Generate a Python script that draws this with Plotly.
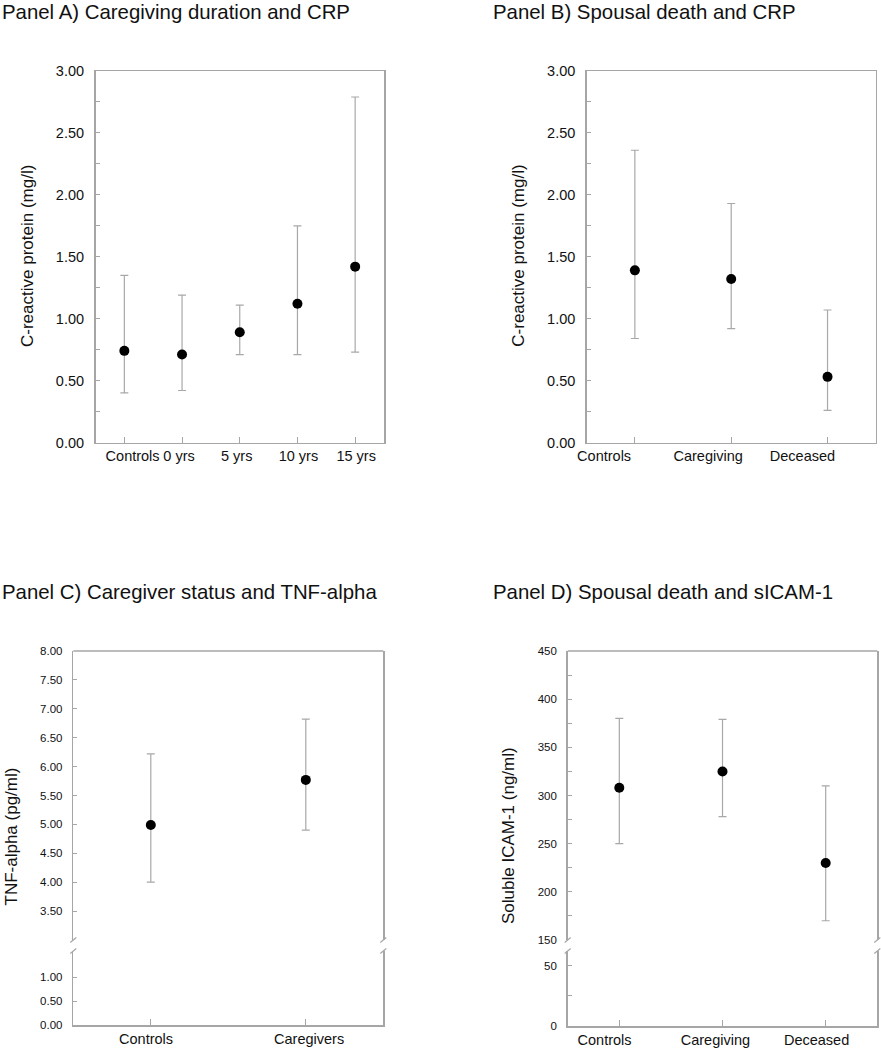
import plotly.graph_objects as go

# ---------------- data ----------------
a_categories = ["Controls", "0 yrs", "5 yrs", "10 yrs", "15 yrs"]
a_mean = [0.74, 0.71, 0.89, 1.12, 1.42]
a_upper = [1.35, 1.19, 1.11, 1.75, 2.79]
a_lower = [0.40, 0.42, 0.71, 0.71, 0.73]

b_categories = ["Controls", "Caregiving", "Deceased"]
b_mean = [1.39, 1.32, 0.53]
b_upper = [2.36, 1.93, 1.07]
b_lower = [0.84, 0.92, 0.26]

c_categories = ["Controls", "Caregivers"]
c_mean = [4.99, 5.77]
c_upper = [6.22, 6.82]
c_lower = [4.00, 4.90]

d_categories = ["Controls", "Caregiving", "Deceased"]
d_mean = [308, 325, 230]
d_upper = [380, 379, 310]
d_lower = [250, 278, 170]

titles = ["Panel A) Caregiving duration and CRP",
          "Panel B) Spousal death and CRP",
          "Panel C) Caregiver status and TNF-alpha",
          "Panel D) Spousal death and sICAM-1"]
ytitles = ["C-reactive protein (mg/l)", "C-reactive protein (mg/l)",
           "TNF-alpha (pg/ml)", "Soluble ICAM-1 (ng/ml)"]

# ---------------- layout helpers ----------------
W, H = 881, 1050
FONT = "Liberation Sans, Arial, sans-serif"
LINE = "#a6a6a6"
ERR = "#a8a8a8"


def fx(x):
    return x / W


def fy(y):
    return 1 - y / H


fig = go.Figure()


def add_panel(cats, mean, upper, lower, xa, ya):
    fig.add_trace(go.Scatter(
        x=cats, y=mean, mode="markers",
        marker=dict(color="black", size=10),
        error_y=dict(type="data", symmetric=False,
                     array=[u - m for u, m in zip(upper, mean)],
                     arrayminus=[m - l for m, l in zip(mean, lower)],
                     color=ERR, thickness=1.2, width=4),
        xaxis=xa, yaxis=ya, showlegend=False, hoverinfo="skip"))


add_panel(a_categories, a_mean, a_upper, a_lower, "x", "y")
add_panel(b_categories, b_mean, b_upper, b_lower, "x2", "y2")
add_panel(c_categories, c_mean, c_upper, c_lower, "x3", "y3")
add_panel(d_categories, d_mean, d_upper, d_lower, "x4", "y5")
# invisible traces so that the lower (broken) segments exist as subplots
fig.add_trace(go.Scatter(x=c_categories, y=[None] * len(c_categories), mode="markers",
                         xaxis="x3", yaxis="y4", showlegend=False, hoverinfo="skip"))
fig.add_trace(go.Scatter(x=d_categories, y=[None] * len(d_categories), mode="markers",
                         xaxis="x4", yaxis="y6", showlegend=False, hoverinfo="skip"))

base = dict(showline=True, linecolor=LINE, linewidth=1.5, ticks="inside",
            tickcolor=LINE, tickwidth=1, showgrid=False, zeroline=False,
            fixedrange=True, automargin=False)


def xax(dom, anchor, cats, mirror, shift):
    return dict(base, domain=dom, anchor=anchor, type="category",
                categoryorder="array", categoryarray=cats,
                range=[-0.5, len(cats) - 0.5], ticklen=6, mirror=mirror,
                tickfont=dict(size=14.5, color="#111", family=FONT),
                ticklabelposition="outside right", ticklabelshift=int(shift),
                ticklabelstandoff=0)


def yax(dom, anchor, rng, tickfont_size, fmt, dtick=None, tickvals=None, minor=None):
    d = dict(base, domain=dom, anchor=anchor, range=rng, ticklen=4, mirror=True,
             tickfont=dict(size=tickfont_size, color="#111", family=FONT),
             tickformat=fmt, ticklabelstandoff=7)
    if dtick is not None:
        d.update(tick0=0, dtick=dtick)
    if tickvals is not None:
        d.update(tickmode="array", tickvals=tickvals)
    if minor is not None:
        d["minor"] = dict(ticks="inside", ticklen=4, tickcolor=LINE, showgrid=False, **minor)
    return d


xa_dom = [fx(95.5), fx(384)]
xb_dom = [fx(586.7), fx(875.7)]
xc_dom = [fx(73.3), fx(383.3)]
xd_dom = [fx(567.7), fx(877.3)]
ab_dom = [fy(442.5), fy(71)]
c_up = [fy(940), fy(651)]
c_lo = [fy(1025), fy(951)]
d_up = [fy(940), fy(651)]
d_lo = [fy(1026), fy(951)]

fig.update_layout(
    width=W, height=H, margin=dict(l=0, r=0, t=0, b=0, autoexpand=False),
    paper_bgcolor="white", plot_bgcolor="white", showlegend=False,
    font=dict(family=FONT, color="#111"),
    xaxis=xax(xa_dom, "y", a_categories, True, -20),
    yaxis=yax(ab_dom, "x", [0, 3], 14.5, ".2f", dtick=0.5, minor=dict(dtick=0.25)),
    xaxis2=xax(xb_dom, "y2", b_categories, True, -59),
    yaxis2=yax(ab_dom, "x2", [0, 3], 14.5, ".2f", dtick=0.5, minor=dict(dtick=0.25)),
    xaxis3=xax(xc_dom, "y4", c_categories, False, -33),
    yaxis3=yax(c_up, "x3", [3.0, 8.0], 11.5, ".2f",
               tickvals=[3.5, 4.0, 4.5, 5.0, 5.5, 6.0, 6.5, 7.0, 7.5, 8.0]),
    yaxis4=yax(c_lo, "x3", [0, 1.55], 11.5, ".2f", tickvals=[0, 0.5, 1.0]),
    xaxis4=xax(xd_dom, "y6", d_categories, False, -43),
    yaxis5=yax(d_up, "x4", [150, 450], 11.5, "d", dtick=50, minor=dict(dtick=25)),
    yaxis6=yax(d_lo, "x4", [0, 62], 11.5, "d", tickvals=[0, 50],
               minor=dict(tickvals=[25])),
)

# panel titles and y-axis titles
ann = []
title_pos = [(0, 12.5), (491, 12.5), (0, 592), (491, 592)]
for t, (x, y) in zip(titles, title_pos):
    ann.append(dict(text=t, x=fx(x), y=fy(y), xref="paper", yref="paper",
                    xanchor="left", yanchor="middle", showarrow=False,
                    font=dict(size=20.4, family=FONT, color="#111")))
ytitle_pos = [(27, 256), (517.7, 256), (10.5, 837), (508, 836)]
for t, (x, y) in zip(ytitles, ytitle_pos):
    ann.append(dict(text=t, x=fx(x), y=fy(y), xref="paper", yref="paper",
                    xanchor="center", yanchor="middle", textangle=-90,
                    showarrow=False, font=dict(size=17, family=FONT, color="#111")))
fig.update_layout(annotations=ann)

# frame top lines and axis-break marks for the broken panels
shapes = []
for xr, yu, yl in [("x3", "y3", "y4"), ("x4", "y5", "y6")]:
    shapes.append(dict(type="line", xref=f"{xr} domain", yref=f"{yu} domain",
                       x0=0, x1=1, y0=1, y1=1, line=dict(color=LINE, width=1.5)))
    for side in (0, 1):
        for yr, yv in ((yu, 0), (yl, 1)):
            shapes.append(dict(type="line", xref=f"{xr} domain", yref=f"{yr} domain",
                               xsizemode="pixel", xanchor=side, x0=-3, x1=3,
                               ysizemode="pixel", yanchor=yv, y0=-2.5, y1=2.5,
                               line=dict(color=LINE, width=1.2)))
fig.update_layout(shapes=shapes)

fig.write_html("out.html",
               config={"displayModeBar": False, "staticPlot": True},
               post_script="document.body.style.margin='0';"
                           "document.body.style.overflow='hidden';")
